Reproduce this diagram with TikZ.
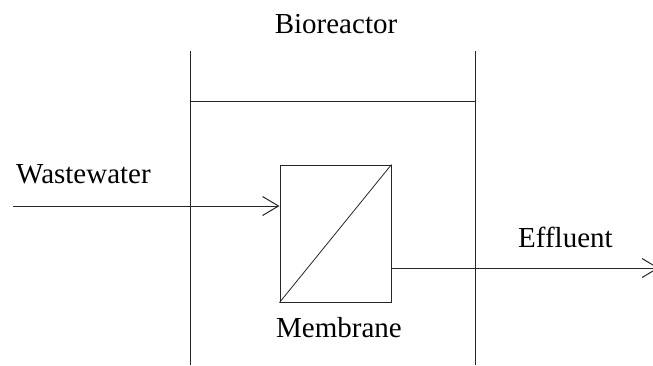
\documentclass[tikz,border=0pt]{standalone}
\usepackage{fontspec}
\setmainfont{Liberation Serif}
\usetikzlibrary{arrows.meta}
\begin{document}
\begin{tikzpicture}[x=1pt,y=-1pt,
  line/.style={line width=1pt,black!85},
  flow/.style={line, -{Straight Barb[length=16pt,width=19pt,line width=1pt]}},
  lbl/.style={font=\fontsize{29}{32}\selectfont, inner sep=0pt}]
\useasboundingbox (0,0) rectangle (653,365);
% walls
\coordinate (lt) at (190,51);
\coordinate (lb) at (190,365);
\coordinate (rt) at (475,51);
\coordinate (rb) at (475,365);
\coordinate (ll) at (190,101);
\coordinate (lr) at (475,101);
\draw[line] (lt) -- (lb);
\draw[line] (rt) -- (rb);
\draw[line] (ll) -- (lr);
% membrane
\node[line, draw, minimum width=111pt, minimum height=137pt, inner sep=0pt] (mem) at (335.5,233.5) {};
\draw[line, line width=0.8pt] (mem.south west) -- (mem.north east);
% flows
\coordinate (win) at (13,206);
\coordinate (eout) at (659,268);
\draw[flow] (win) -- (win -| mem.west);
\draw[flow] (eout -| mem.east) -- (eout);
% labels
\node[lbl, anchor=base] (bio) at (336,33) {Bioreactor};
\node[lbl, anchor=base west] (ww) at (16,183) {Wastewater};
\node[lbl, anchor=base west] (eff) at (518,247) {Effluent};
\node[lbl, anchor=base] (memlbl) at (339,337) {Membrane};
\end{tikzpicture}
\end{document}
